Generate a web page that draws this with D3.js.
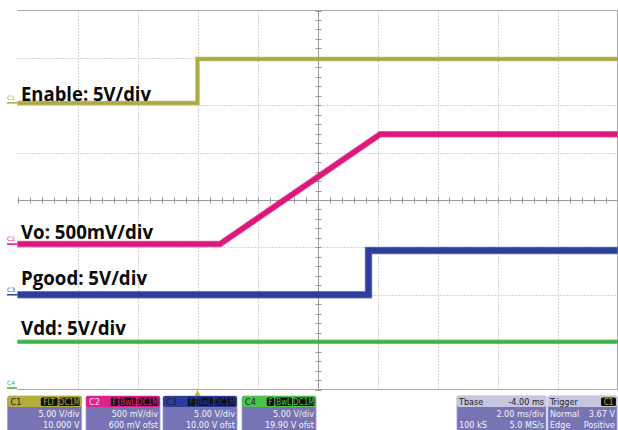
<!DOCTYPE html>
<html><head><meta charset="utf-8">
<script src="https://cdn.jsdelivr.net/npm/d3@7"></script>
<style>
html,body{margin:0;padding:0;background:#fff;}
svg{display:block;}
</style></head>
<body>
<script>
// ---- Data (time in ms relative to trigger, amplitude in volts) ----
const enableT = [-6, 0, 0, 14];
const enableV = [0, 0, 4.64, 4.64];
const voT = [-6, 0.75, 6.09, 14];
const voV = [0, 0, 1.16, 1.16];
const pgoodT = [-6, 5.70, 5.70, 14];
const pgoodV = [0, 0, 4.66, 4.66];
const vddT = [-6, 14];
const vddV = [4.88, 4.88];

const channelNames = ["C1", "C2", "C3", "C4"];
const channelVoltsPerDiv = [5, 0.5, 5, 5];
const channelPosDiv = [2.05, -0.93, -2.0, -3.97];
const traceLabels = ["Enable: 5V/div", "Vo: 500mV/div", "Pgood: 5V/div", "Vdd: 5V/div"];
const chanTags = [["FLT", "DC1M"], ["F", "BwL", "DC1M"], ["F", "BwL", "DC1M"], ["F", "BwL", "DC1M"]];
const chanRow1 = ["5.00 V/div", "500 mV/div", "5.00 V/div", "5.00 V/div"];
const chanRow2 = ["10.000 V", "600 mV ofst", "10.00 V ofst", "19.90 V ofst"];
const tbaseHead = ["Tbase", "-4.00 ms"];
const tbaseRow1 = ["", "2.00 ms/div"];
const tbaseRow2 = ["100 kS", "5.0 MS/s"];
const trigHead = ["Trigger", "C1"];
const trigRow1 = ["Normal", "3.67 V"];
const trigRow2 = ["Edge", "Positive"];

const W = 618, H = 430;
const colors = ["#aeaa3c", "#e0157e", "#2c3f9f", "#3db544"];
const darkColors = ["#86841e", "#a80c5c", "#1c2a78", "#2a8a30"];
const headColors = ["#b4ad3c", "#e0208c", "#2c3c9e", "#4cc24c"];

const svg = d3.select("body").append("svg").attr("width", W).attr("height", H);

const x = d3.scaleLinear().domain([-6, 14]).range([17.5, 617.5]);
const y = d3.scaleLinear().domain([-4, 4]).range([389.5, 10.5]);

// grid
const g = svg.append("g");
const xDivs = d3.range(-6, 14.01, 2);
const yDivs = d3.range(-4, 4.01, 1);
g.selectAll(".vg").data(xDivs.filter(d => d > -6 && d < 14 && d !== 4)).join("line")
  .attr("x1", d => Math.round(x(d)) + 0.5).attr("x2", d => Math.round(x(d)) + 0.5)
  .attr("y1", y(4)).attr("y2", y(-4))
  .attr("stroke", "#a8a8a8").attr("stroke-width", 1).attr("stroke-dasharray", "1,2");
g.selectAll(".hg").data(yDivs.filter(d => d > -4 && d < 4 && d !== 0)).join("line")
  .attr("x1", x(-6)).attr("x2", x(14))
  .attr("y1", d => Math.round(y(d)) + 0.5).attr("y2", d => Math.round(y(d)) + 0.5)
  .attr("stroke", "#a8a8a8").attr("stroke-width", 1).attr("stroke-dasharray", "1,2");
// center axes
const cx = Math.round(x(4)) + 0.5, cy = Math.round(y(0)) + 0.5;
g.append("line").attr("x1", cx).attr("x2", cx).attr("y1", y(4)).attr("y2", y(-4)).attr("stroke", "#9a9a9a");
g.append("line").attr("x1", x(-6)).attr("x2", x(14)).attr("y1", cy).attr("y2", cy).attr("stroke", "#9a9a9a");
g.selectAll(".tx").data(d3.range(-6, 14.001, 0.4)).join("line")
  .attr("x1", d => Math.round(x(d)) + 0.5).attr("x2", d => Math.round(x(d)) + 0.5)
  .attr("y1", cy - 3).attr("y2", cy + 3).attr("stroke", "#9a9a9a");
g.selectAll(".ty").data(d3.range(-4, 4.001, 0.2)).join("line")
  .attr("y1", d => Math.round(y(d)) + 0.5).attr("y2", d => Math.round(y(d)) + 0.5)
  .attr("x1", cx - 3).attr("x2", cx + 3).attr("stroke", "#9a9a9a");
// frame
g.append("line").attr("x1", x(-6)).attr("x2", x(14)).attr("y1", 10.5).attr("y2", 10.5).attr("stroke", "#a8a8a8");
g.append("line").attr("x1", x(-6)).attr("x2", x(14)).attr("y1", 389.5).attr("y2", 389.5).attr("stroke", "#a8a8a8");
g.append("line").attr("x1", 617.5).attr("x2", 617.5).attr("y1", 10.5).attr("y2", 389.5).attr("stroke", "#a8a8a8");

// traces
const series = [
  {T: enableT, V: enableV, ch: 0, w: 3},
  {T: voT, V: voV, ch: 1, w: 5},
  {T: pgoodT, V: pgoodV, ch: 2, w: 6},
  {T: vddT, V: vddV, ch: 3, w: 3}
];
const toDiv = (v, ch) => channelPosDiv[ch] + v / channelVoltsPerDiv[ch];
const line = d3.line().x(d => x(d[0])).y(d => y(d[1]));
series.forEach(s => {
  const pts = s.T.map((t, i) => [t, toDiv(s.V[i], s.ch)]);
  svg.append("path").attr("d", line(pts)).attr("fill", "none")
    .attr("stroke", darkColors[s.ch]).attr("stroke-width", s.w + 1.5).attr("stroke-opacity", 0.55);
  svg.append("path").attr("d", line(pts)).attr("fill", "none")
    .attr("stroke", colors[s.ch]).attr("stroke-width", s.w);
});

// channel ground markers
channelNames.forEach((c, i) => {
  const yy = y(channelPosDiv[i]);
  svg.append("text").attr("x", 7).attr("y", yy - 3).text(c)
    .attr("font-family", "DejaVu Sans, sans-serif").attr("font-size", 6).attr("fill", colors[i]);
  svg.append("line").attr("x1", 7).attr("x2", 17).attr("y1", yy).attr("y2", yy)
    .attr("stroke", colors[i]).attr("stroke-width", 1.5);
});

// trace labels
const labelBase = [101, 239, 285, 335];
const labelWidth = [130, 132, 126, 105];
traceLabels.forEach((t, i) => {
  svg.append("text").attr("x", 21).attr("y", labelBase[i]).text(t)
    .attr("font-family", "'Open Sans', 'Noto Sans', sans-serif").attr("font-weight", 700)
    .attr("font-size", 19.5).attr("fill", "#0a0a0a")
    .attr("textLength", labelWidth[i]).attr("lengthAdjust", "spacingAndGlyphs");
});

// trigger marker
svg.append("path").attr("d", `M${x(0)},390 l-3,6 l6,0 z`).attr("fill", "#c2b23a");

// status bar
const sb = svg.append("g").attr("font-family", "'Liberation Sans Narrow','DejaVu Sans Condensed',Arial,sans-serif").attr("font-size", 9);
const bodyColor = "#7674b4";
const boxX = [7.5, 86, 163, 242];
const boxW = 74;
channelNames.forEach((c, i) => {
  const bx = boxX[i];
  sb.append("rect").attr("x", bx).attr("y", 396).attr("width", boxW).attr("height", 40).attr("rx", 2)
    .attr("fill", bodyColor).attr("stroke", "#a09ed0").attr("stroke-width", 0.8);
  sb.append("rect").attr("x", bx).attr("y", 396).attr("width", boxW).attr("height", 11).attr("rx", 2)
    .attr("fill", headColors[i]);
  sb.append("text").attr("x", bx + 3).attr("y", 405).text(c).attr("fill", i === 1 ? "#ffe0f0" : "#1a1a30");
  const tags = chanTags[i];
  const tagW = tags.map(t => t.length * 4.6 + 3);
  const total = d3.sum(tagW) + (tags.length - 1);
  let tx = bx + boxW - 1.5 - total;
  tags.forEach((t, k) => {
    sb.append("rect").attr("x", tx).attr("y", 397.5).attr("width", tagW[k]).attr("height", 8.5).attr("rx", 1.5).attr("fill", "#111");
    sb.append("text").attr("x", tx + tagW[k] / 2).attr("y", 405).attr("text-anchor", "middle")
      .attr("font-size", 8).text(t).attr("fill", headColors[i]);
    tx += tagW[k] + 1;
  });
  sb.append("text").attr("x", bx + boxW - 2).attr("y", 417).attr("text-anchor", "end").text(chanRow1[i]).attr("fill", "#f4f4f4");
  sb.append("text").attr("x", bx + boxW - 2).attr("y", 428).attr("text-anchor", "end").text(chanRow2[i]).attr("fill", "#f4f4f4");
});
function infoBox(bx, bw, head, r1, r2, tagText) {
  sb.append("rect").attr("x", bx).attr("y", 396).attr("width", bw).attr("height", 40).attr("rx", 2)
    .attr("fill", bodyColor).attr("stroke", "#a09ed0").attr("stroke-width", 0.8);
  sb.append("rect").attr("x", bx).attr("y", 396).attr("width", bw).attr("height", 11).attr("rx", 2).attr("fill", "#c6c6de");
  sb.append("text").attr("x", bx + 2).attr("y", 405).text(head[0]).attr("fill", "#1a1a30");
  if (tagText) {
    sb.append("rect").attr("x", bx + bw - 16).attr("y", 397.5).attr("width", 15).attr("height", 8.5).attr("rx", 1.5).attr("fill", "#111");
    sb.append("text").attr("x", bx + bw - 8.5).attr("y", 405).attr("text-anchor", "middle").attr("font-size", 8).text(head[1]).attr("fill", headColors[0]);
  } else {
    sb.append("text").attr("x", bx + bw - 2).attr("y", 405).attr("text-anchor", "end").text(head[1]).attr("fill", "#1a1a30");
  }
  [r1, r2].forEach((r, k) => {
    sb.append("text").attr("x", bx + 2).attr("y", 417 + 11 * k).text(r[0]).attr("fill", "#f4f4f4");
    sb.append("text").attr("x", bx + bw - 2).attr("y", 417 + 11 * k).attr("text-anchor", "end").text(r[1]).attr("fill", "#f4f4f4");
  });
}
infoBox(457, 89, tbaseHead, tbaseRow1, tbaseRow2, false);
infoBox(548, 69, trigHead, trigRow1, trigRow2, true);
</script>
</body></html>
